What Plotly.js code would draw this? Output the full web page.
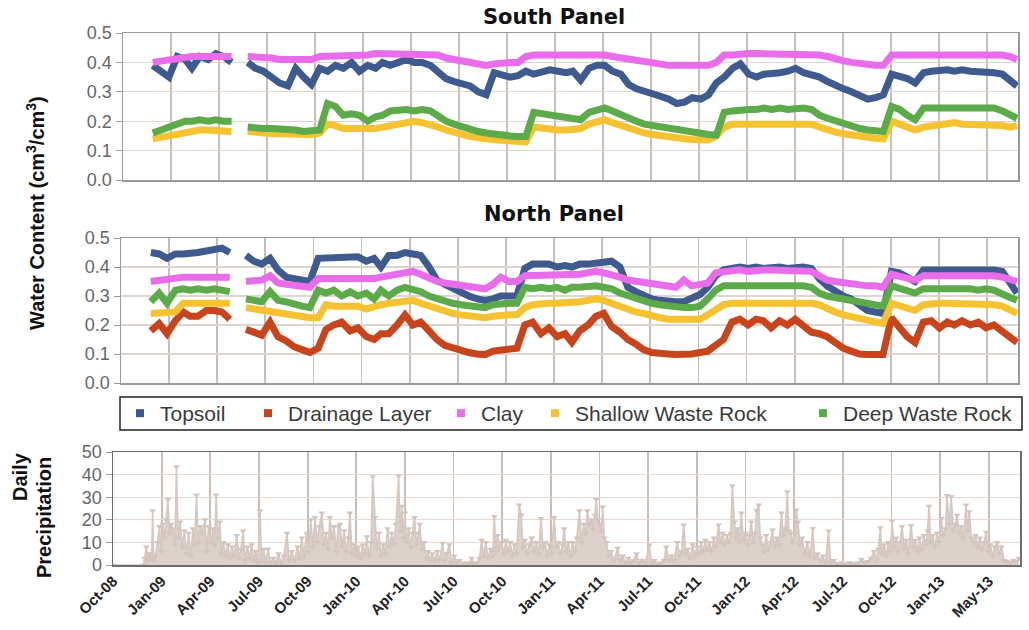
<!DOCTYPE html>
<html><head><meta charset="utf-8">
<script src="https://cdn.plot.ly/plotly-3.0.1.min.js"></script>
<style>html,body{margin:0;padding:0;background:#fff}#chart{width:1029px;height:630px}</style>
</head><body><div id="chart"></div>
<script>
// sample dates for the water-content series (null = logging gap)
const sampleDates = ["2008-12-16",
"2009-01-01","2009-01-16","2009-02-01","2009-02-16","2009-03-01","2009-03-16","2009-04-01","2009-04-16","2009-05-01","2009-05-16","2009-06-01","2009-06-16","2009-07-01","2009-07-16","2009-08-01","2009-08-16","2009-09-01","2009-09-16","2009-10-01","2009-10-16","2009-11-01","2009-11-16","2009-12-01","2009-12-16",
"2010-01-01","2010-01-16","2010-02-01","2010-02-16","2010-03-01","2010-03-16","2010-04-01","2010-04-16","2010-05-01","2010-05-16","2010-06-01","2010-06-16","2010-07-01","2010-07-16","2010-08-01","2010-08-16","2010-09-01","2010-09-16","2010-10-01","2010-10-16","2010-11-01","2010-11-16","2010-12-01","2010-12-16",
"2011-01-01","2011-01-16","2011-02-01","2011-02-16","2011-03-01","2011-03-16","2011-04-01","2011-04-16","2011-05-01","2011-05-16","2011-06-01","2011-06-16","2011-07-01","2011-07-16","2011-08-01","2011-08-16","2011-09-01","2011-09-16","2011-10-01","2011-10-16","2011-11-01","2011-11-16","2011-12-01","2011-12-16",
"2012-01-01","2012-01-16","2012-02-01","2012-02-16","2012-03-01","2012-03-16","2012-04-01","2012-04-16","2012-05-01","2012-05-16","2012-06-01","2012-06-16","2012-07-01","2012-07-16","2012-08-01","2012-08-16","2012-09-01","2012-09-16","2012-10-01","2012-10-16","2012-11-01","2012-11-16","2012-12-01","2012-12-16",
"2013-01-01","2013-01-16","2013-02-01","2013-02-16","2013-03-01","2013-03-16","2013-04-01","2013-04-16","2013-05-01","2013-05-16","2013-06-01","2013-06-16","2013-06-29"];

// ---- South Panel (cm3/cm3)
const southTopsoil = [0.39,0.37,0.35,0.42,0.41,0.38,0.42,0.41,0.43,0.42,0.40,null,0.40,0.38,0.37,0.35,0.33,0.32,0.38,0.35,0.325,0.38,0.37,0.39,0.38,
0.40,0.37,0.39,0.38,0.40,0.39,0.40,0.41,0.40,0.40,0.39,0.37,0.345,0.335,0.33,0.32,0.30,0.29,0.365,0.36,0.35,0.355,0.37,0.36,
0.37,0.375,0.37,0.365,0.37,0.34,0.38,0.39,0.39,0.37,0.36,0.325,0.31,0.30,0.29,0.285,0.275,0.26,0.265,0.28,0.275,0.29,0.33,0.35,
0.38,0.395,0.36,0.35,0.36,0.36,0.365,0.37,0.38,0.365,0.36,0.35,0.335,0.32,0.31,0.30,0.285,0.275,0.28,0.29,0.36,0.355,0.345,0.33,
0.365,0.37,0.375,0.375,0.37,0.375,0.37,0.37,0.37,0.365,0.36,0.34,0.32];
const southDrainage = [];
const southClay = [0.40,0.405,0.41,0.415,0.415,0.42,0.42,0.42,0.42,0.425,0.42,null,0.42,0.42,0.415,0.415,0.41,0.41,0.41,0.41,0.41,0.42,0.42,0.425,0.425,
0.425,0.425,0.425,0.43,0.43,0.43,0.43,0.43,0.43,0.43,0.43,0.425,0.415,0.41,0.40,0.395,0.39,0.39,0.395,0.40,0.40,0.40,0.42,0.425,
0.425,0.425,0.425,0.425,0.43,0.43,0.43,0.43,0.425,0.42,0.415,0.41,0.405,0.40,0.40,0.395,0.39,0.39,0.39,0.39,0.39,0.39,0.40,0.425,
0.425,0.43,0.43,0.43,0.43,0.43,0.43,0.43,0.43,0.43,0.43,0.425,0.42,0.41,0.405,0.40,0.395,0.39,0.39,0.39,0.425,0.425,0.425,0.425,
0.425,0.425,0.43,0.43,0.43,0.43,0.43,0.43,0.43,0.43,0.425,0.42,0.41];
const southShallow = [0.14,0.145,0.15,0.16,0.165,0.165,0.17,0.17,0.17,0.17,0.165,null,0.165,0.16,0.16,0.158,0.157,0.155,0.155,0.155,0.155,0.16,0.19,0.185,0.175,
0.175,0.175,0.17,0.175,0.18,0.185,0.19,0.20,0.20,0.195,0.19,0.18,0.17,0.16,0.155,0.148,0.143,0.14,0.137,0.135,0.133,0.132,0.13,0.18,
0.175,0.175,0.17,0.17,0.17,0.175,0.19,0.20,0.205,0.195,0.185,0.175,0.165,0.16,0.155,0.15,0.147,0.143,0.14,0.138,0.137,0.136,0.15,0.18,
0.19,0.19,0.19,0.19,0.195,0.195,0.19,0.195,0.195,0.19,0.19,0.18,0.17,0.163,0.157,0.152,0.148,0.145,0.142,0.14,0.20,0.19,0.18,0.17,
0.18,0.185,0.19,0.19,0.195,0.19,0.19,0.19,0.19,0.19,0.185,0.18,0.185];
const southDeep = [0.16,0.17,0.18,0.19,0.20,0.20,0.205,0.20,0.205,0.20,0.20,null,0.18,0.175,0.175,0.175,0.175,0.17,0.17,0.165,0.165,0.17,0.26,0.25,0.22,
0.225,0.22,0.20,0.215,0.22,0.235,0.24,0.24,0.235,0.24,0.235,0.215,0.20,0.19,0.18,0.17,0.165,0.16,0.155,0.15,0.15,0.148,0.148,0.23,
0.225,0.22,0.215,0.215,0.21,0.205,0.23,0.24,0.245,0.235,0.225,0.21,0.20,0.19,0.185,0.18,0.175,0.17,0.165,0.16,0.158,0.155,0.153,0.23,
0.235,0.24,0.24,0.24,0.245,0.24,0.245,0.24,0.245,0.245,0.24,0.22,0.21,0.20,0.19,0.18,0.175,0.17,0.168,0.165,0.25,0.24,0.22,0.205,
0.245,0.245,0.25,0.25,0.25,0.25,0.25,0.245,0.25,0.245,0.235,0.22,0.21];

// ---- North Panel (cm3/cm3)
const northTopsoil = [0.45,0.445,0.43,0.445,0.445,0.45,0.45,0.455,0.46,0.465,0.45,null,0.44,0.42,0.41,0.43,0.39,0.365,0.36,0.355,0.35,0.43,0.43,0.435,0.43,
0.43,0.435,0.42,0.43,0.40,0.44,0.44,0.45,0.445,0.44,0.40,0.355,0.34,0.325,0.31,0.30,0.29,0.285,0.29,0.30,0.30,0.30,0.395,0.41,
0.41,0.41,0.40,0.405,0.40,0.41,0.41,0.415,0.415,0.42,0.40,0.33,0.315,0.30,0.29,0.285,0.28,0.28,0.28,0.29,0.305,0.33,0.37,0.39,
0.395,0.40,0.395,0.40,0.395,0.40,0.40,0.395,0.40,0.40,0.395,0.36,0.335,0.315,0.30,0.29,0.27,0.25,0.245,0.24,0.385,0.38,0.365,0.35,
0.39,0.39,0.395,0.395,0.395,0.395,0.39,0.395,0.395,0.39,0.385,0.35,0.31];
const northDrainage = [0.18,0.205,0.17,0.215,0.245,0.23,0.23,0.25,0.25,0.245,0.22,null,0.185,0.175,0.165,0.21,0.16,0.145,0.125,0.115,0.105,0.12,0.185,0.20,0.21,
0.18,0.19,0.16,0.15,0.17,0.17,0.20,0.235,0.20,0.21,0.18,0.15,0.13,0.12,0.112,0.105,0.10,0.098,0.11,0.115,0.12,0.12,0.20,0.21,
0.17,0.19,0.16,0.17,0.14,0.18,0.20,0.23,0.24,0.195,0.175,0.15,0.135,0.115,0.105,0.10,0.10,0.098,0.097,0.10,0.105,0.11,0.13,0.15,
0.21,0.22,0.20,0.22,0.215,0.19,0.215,0.20,0.22,0.20,0.175,0.17,0.16,0.14,0.12,0.11,0.10,0.098,0.097,0.098,0.225,0.19,0.16,0.14,
0.21,0.215,0.19,0.21,0.20,0.215,0.20,0.21,0.19,0.20,0.18,0.16,0.14];
const northClay = [0.35,0.355,0.36,0.365,0.365,0.365,0.365,0.365,0.365,0.365,0.365,null,0.35,0.35,0.355,0.37,0.345,0.34,0.335,0.33,0.33,0.36,0.36,0.36,0.355,
0.36,0.36,0.355,0.36,0.365,0.37,0.375,0.38,0.385,0.375,0.36,0.35,0.345,0.34,0.335,0.33,0.325,0.325,0.34,0.365,0.35,0.35,0.37,0.37,
0.37,0.37,0.37,0.37,0.375,0.375,0.38,0.385,0.38,0.375,0.365,0.355,0.35,0.345,0.34,0.335,0.33,0.33,0.355,0.335,0.34,0.345,0.38,0.385,
0.385,0.39,0.385,0.39,0.39,0.39,0.39,0.39,0.39,0.39,0.385,0.37,0.355,0.35,0.345,0.34,0.335,0.335,0.335,0.33,0.375,0.37,0.36,0.355,
0.37,0.37,0.375,0.375,0.375,0.375,0.375,0.375,0.375,0.37,0.365,0.355,0.35];
const northShallow = [0.24,0.24,0.24,0.245,0.275,0.275,0.275,0.28,0.28,0.28,0.275,null,0.26,0.255,0.25,0.25,0.245,0.24,0.235,0.23,0.225,0.225,0.27,0.265,0.265,
0.26,0.265,0.255,0.265,0.27,0.275,0.28,0.285,0.285,0.275,0.265,0.255,0.245,0.24,0.235,0.23,0.228,0.225,0.23,0.235,0.235,0.235,0.26,0.27,
0.275,0.275,0.275,0.275,0.28,0.28,0.285,0.29,0.285,0.275,0.265,0.25,0.245,0.24,0.23,0.225,0.22,0.22,0.22,0.22,0.22,0.235,0.25,0.27,
0.275,0.275,0.275,0.275,0.275,0.28,0.275,0.28,0.275,0.28,0.275,0.27,0.255,0.245,0.235,0.23,0.22,0.215,0.21,0.205,0.275,0.265,0.255,0.25,
0.27,0.275,0.275,0.275,0.275,0.275,0.275,0.275,0.275,0.27,0.265,0.25,0.24];
const northDeep = [0.28,0.31,0.275,0.32,0.325,0.32,0.325,0.32,0.325,0.32,0.315,null,0.29,0.285,0.28,0.315,0.285,0.28,0.27,0.265,0.26,0.32,0.31,0.32,0.30,
0.315,0.30,0.31,0.29,0.32,0.30,0.32,0.33,0.325,0.315,0.30,0.29,0.28,0.275,0.27,0.265,0.26,0.26,0.27,0.275,0.275,0.275,0.33,0.325,
0.33,0.325,0.33,0.32,0.33,0.33,0.335,0.335,0.33,0.325,0.31,0.30,0.29,0.28,0.275,0.27,0.265,0.26,0.26,0.26,0.265,0.29,0.32,0.335,
0.335,0.34,0.335,0.335,0.335,0.335,0.335,0.335,0.335,0.335,0.33,0.31,0.30,0.295,0.29,0.285,0.28,0.275,0.27,0.265,0.335,0.325,0.315,0.31,
0.325,0.325,0.33,0.325,0.325,0.325,0.325,0.32,0.325,0.32,0.31,0.295,0.285];

// ---- Daily precipitation [date, mm]
const precipitation = [["2008-10-20",0],["2008-12-16",0],["2008-12-19",3],["2008-12-22",8],["2008-12-25",2],["2008-12-28",5],
["2009-01-01",3],["2009-01-03",24],["2009-01-05",2],["2009-01-08",4],["2009-01-12",10],["2009-01-16",17],["2009-01-19",6],["2009-01-22",18],["2009-01-25",12],["2009-01-28",20],
["2009-02-01",29],["2009-02-04",14],["2009-02-07",18],["2009-02-10",16],["2009-02-14",9],["2009-02-17",43.5],["2009-02-20",12],["2009-02-24",19],["2009-02-28",8],
["2009-03-04",15],["2009-03-08",5],["2009-03-12",14],["2009-03-16",4],["2009-03-20",16],["2009-03-23",9],["2009-03-27",31],["2009-03-30",10],
["2009-04-03",17],["2009-04-07",14],["2009-04-12",20],["2009-04-15",6],["2009-04-19",17],["2009-04-23",10],["2009-04-27",16],["2009-04-30",9],
["2009-05-03",31],["2009-05-06",12],["2009-05-10",19],["2009-05-13",5],["2009-05-17",10],["2009-05-21",4],["2009-05-25",9],["2009-05-29",3],
["2009-06-02",8],["2009-06-06",4],["2009-06-11",13],["2009-06-15",3],["2009-06-19",7],["2009-06-23",15],["2009-06-27",2],
["2009-07-01",8],["2009-07-05",3],["2009-07-09",9],["2009-07-13",2],["2009-07-17",6],["2009-07-21",1],["2009-07-25",24],["2009-07-28",2],
["2009-08-01",7],["2009-08-05",1],["2009-08-09",7],["2009-08-14",1],["2009-08-19",3],["2009-08-24",1],["2009-08-29",5],
["2009-09-03",1],["2009-09-08",4],["2009-09-14",14],["2009-09-18",2],["2009-09-23",6],["2009-09-28",2],
["2009-10-04",8],["2009-10-08",3],["2009-10-12",12],["2009-10-16",4],["2009-10-21",14],["2009-10-25",6],["2009-10-29",20],
["2009-11-02",8],["2009-11-06",21],["2009-11-10",10],["2009-11-14",17],["2009-11-19",23],["2009-11-23",9],["2009-11-27",14],
["2009-12-01",7],["2009-12-04",21],["2009-12-08",12],["2009-12-12",17],["2009-12-16",6],["2009-12-20",17],["2009-12-23",18],["2009-12-27",8],["2009-12-31",15],
["2010-01-04",6],["2010-01-08",12],["2010-01-11",23],["2010-01-15",5],["2010-01-19",9],["2010-01-23",4],["2010-01-27",8],["2010-01-31",3],
["2010-02-04",9],["2010-02-08",5],["2010-02-12",12.5],["2010-02-16",4],["2010-02-20",10],["2010-02-23",39],["2010-02-27",21],
["2010-03-03",7],["2010-03-07",14],["2010-03-11",4],["2010-03-15",9],["2010-03-19",5],["2010-03-23",16],["2010-03-27",8],["2010-03-31",14],
["2010-04-04",9],["2010-04-08",18],["2010-04-13",39.5],["2010-04-16",15],["2010-04-19",26],["2010-04-22",12],["2010-04-25",23],["2010-04-28",10],
["2010-05-02",16],["2010-05-06",8],["2010-05-09",14],["2010-05-13",21],["2010-05-17",9],["2010-05-20",14],["2010-05-23",18],["2010-05-27",7],["2010-05-31",10],
["2010-06-04",3],["2010-06-08",6],["2010-06-12",2],["2010-06-16",5],["2010-06-20",2],["2010-06-25",6],["2010-06-29",2],
["2010-07-05",9.6],["2010-07-09",2],["2010-07-13",5],["2010-07-18",9],["2010-07-22",1],["2010-07-27",4],
["2010-08-01",1],["2010-08-06",2],["2010-08-12",0.5],["2010-08-18",1],["2010-08-24",0.5],["2010-08-29",3],
["2010-09-03",0.5],["2010-09-08",1],["2010-09-13",3],["2010-09-17",11],["2010-09-21",4],["2010-09-25",10],["2010-09-29",3],
["2010-10-04",7],["2010-10-08",4],["2010-10-11",21.5],["2010-10-14",6],["2010-10-17",13],["2010-10-21",8],["2010-10-25",10],["2010-10-29",5],
["2010-11-02",11],["2010-11-06",6],["2010-11-10",10],["2010-11-14",4],["2010-11-18",9],["2010-11-22",5],["2010-11-27",26.5],
["2010-12-01",22],["2010-12-04",8],["2010-12-08",11],["2010-12-12",5],["2010-12-16",9],["2010-12-21",12],["2010-12-25",6],["2010-12-29",10],
["2011-01-03",5],["2011-01-07",20.6],["2011-01-11",8],["2011-01-15",10],["2011-01-19",4],["2011-01-23",9],["2011-01-27",5],
["2011-02-01",21],["2011-02-05",8],["2011-02-09",10],["2011-02-13",5],["2011-02-17",9],["2011-02-20",16],["2011-02-24",6],["2011-02-28",10],
["2011-03-04",4],["2011-03-08",10],["2011-03-12",6],["2011-03-16",12],["2011-03-21",24],["2011-03-25",10],["2011-03-29",18],
["2011-04-02",14],["2011-04-05",24],["2011-04-09",18],["2011-04-13",20],["2011-04-16",16],["2011-04-19",22],["2011-04-22",29],["2011-04-25",20],["2011-04-28",18],
["2011-05-01",15],["2011-05-04",25.7],["2011-05-07",12],["2011-05-11",10],["2011-05-15",4],["2011-05-20",6],["2011-05-25",2],
["2011-06-01",7.4],["2011-06-06",2],["2011-06-11",4],["2011-06-16",1],["2011-06-21",3],["2011-06-26",1],
["2011-07-01",2],["2011-07-07",5],["2011-07-12",1],["2011-07-18",2],["2011-07-24",1],["2011-07-31",8.8],
["2011-08-04",1],["2011-08-10",2],["2011-08-16",0.5],["2011-08-22",1],["2011-08-28",2],
["2011-09-01",8],["2011-09-06",2],["2011-09-11",4],["2011-09-16",2],["2011-09-22",10],["2011-09-26",4],["2011-09-30",6],
["2011-10-04",17.7],["2011-10-08",5],["2011-10-12",7],["2011-10-16",3],["2011-10-21",9],["2011-10-25",4],["2011-10-29",8],
["2011-11-02",5],["2011-11-06",10],["2011-11-10",6],["2011-11-14",11],["2011-11-18",7],["2011-11-22",10],["2011-11-26",6],["2011-11-30",12],
["2011-12-04",8],["2011-12-09",17.7],["2011-12-13",10],["2011-12-17",14],["2011-12-21",9],["2011-12-25",13],["2011-12-29",10],
["2012-01-01",14],["2012-01-04",35],["2012-01-08",19],["2012-01-11",12],["2012-01-14",16],["2012-01-17",10],["2012-01-21",23],["2012-01-25",11],["2012-01-29",14],
["2012-02-02",9],["2012-02-05",13],["2012-02-09",19],["2012-02-13",10],["2012-02-16",14],["2012-02-19",24],["2012-02-23",26.5],["2012-02-26",12],
["2012-03-01",9],["2012-03-04",6],["2012-03-08",13],["2012-03-12",7],["2012-03-16",10],["2012-03-20",15.5],["2012-03-24",8],["2012-03-28",12],
["2012-04-01",9],["2012-04-06",23],["2012-04-09",13],["2012-04-13",16],["2012-04-17",32.4],["2012-04-20",15],["2012-04-24",14],["2012-04-27",10],
["2012-05-01",14],["2012-05-04",24.3],["2012-05-07",19],["2012-05-11",9],["2012-05-15",12],["2012-05-20",5],["2012-05-25",10],["2012-05-30",4],
["2012-06-04",16.2],["2012-06-08",3],["2012-06-13",5],["2012-06-18",2],["2012-06-23",4],["2012-06-28",1],
["2012-07-04",15],["2012-07-08",1],["2012-07-14",2],["2012-07-20",0.5],["2012-07-28",1],
["2012-08-05",0.5],["2012-08-13",1],["2012-08-21",0.5],["2012-08-29",1],
["2012-09-04",2.5],["2012-09-10",1],["2012-09-16",1.5],["2012-09-22",3],["2012-09-28",6],
["2012-10-02",2],["2012-10-06",7],["2012-10-10",16.5],["2012-10-13",5],["2012-10-17",9],["2012-10-21",4],["2012-10-25",10],["2012-10-29",6],
["2012-11-01",19.5],["2012-11-05",8],["2012-11-09",12],["2012-11-13",6],["2012-11-16",10],["2012-11-20",17],["2012-11-24",7],["2012-11-28",11],
["2012-12-02",5],["2012-12-07",17.4],["2012-12-11",8],["2012-12-15",11],["2012-12-19",6],["2012-12-23",12],["2012-12-27",7],["2012-12-31",13],
["2013-01-04",9],["2013-01-07",15],["2013-01-10",26],["2013-01-13",10],["2013-01-17",13],["2013-01-21",8],["2013-01-25",14],["2013-01-29",10],
["2013-02-02",20.6],["2013-02-06",13],["2013-02-10",16],["2013-02-13",30.7],["2013-02-17",18],["2013-02-21",30.3],["2013-02-25",15],
["2013-03-01",18],["2013-03-04",22],["2013-03-08",14],["2013-03-12",17],["2013-03-16",12],["2013-03-21",26.5],["2013-03-24",15],["2013-03-27",23.6],["2013-03-31",12],
["2013-04-04",10],["2013-04-08",13],["2013-04-12",8],["2013-04-16",12],["2013-04-20",7],["2013-04-24",10],["2013-04-28",14.5],
["2013-05-02",6],["2013-05-06",9],["2013-05-10",4],["2013-05-14",8],["2013-05-19",10],["2013-05-23",5],["2013-05-27",8],
["2013-06-01",2],["2013-06-06",1.5],["2013-06-12",1],["2013-06-18",2],["2013-06-24",1.5],["2013-06-29",3]];

// x-axis ticks (quarterly labels of the original)
const tickDates = ["2008-10-20","2009-01-20","2009-04-22","2009-07-23","2009-10-23","2010-01-23","2010-04-25","2010-07-26","2010-10-26","2011-01-26","2011-04-28","2011-07-29","2011-10-29","2012-01-29","2012-04-30","2012-07-31","2012-10-31","2013-01-31","2013-05-03"];
const tickLabels = ["Oct-08","Jan-09","Apr-09","Jul-09","Oct-09","Jan-10","Apr-10","Jul-10","Oct-10","Jan-11","Apr-11","Jul-11","Oct-11","Jan-12","Apr-12","Jul-12","Oct-12","Jan-13","May-13"];
const xRange = ["2008-10-20","2013-07-01"];

const layerNames = ["Topsoil","Drainage Layer","Clay","Shallow Waste Rock","Deep Waste Rock"];
const layerColors = ["#3e5a8e","#c8441c","#e96deb","#f5c331","#5daa4b"];

const W = 1029, H = 630;
const px = v => v / W, py = v => 1 - v / H;

const traces = [];
const south = [southTopsoil, southDrainage, southClay, southShallow, southDeep];
const north = [northTopsoil, northDrainage, northClay, northShallow, northDeep];
south.forEach((s, i) => { if (s.length) traces.push({x: sampleDates, y: s, type: 'scatter', mode: 'lines', line: {color: layerColors[i], width: 7}, xaxis: 'x', yaxis: 'y', showlegend: false, name: layerNames[i]}); });
north.forEach((s, i) => { traces.push({x: sampleDates, y: s, type: 'scatter', mode: 'lines', line: {color: layerColors[i], width: 7}, xaxis: 'x2', yaxis: 'y2', showlegend: false, name: layerNames[i]}); });
traces.push({x: precipitation.map(p => p[0]), y: precipitation.map(p => p[1]), type: 'scatter', mode: 'lines+markers',
  fill: 'tozeroy', fillcolor: '#ddd1cb',
  line: {color: '#d6c8c1', width: 1.6}, marker: {symbol: 'triangle-down', size: 6, color: '#d3c4bd'},
  xaxis: 'x3', yaxis: 'y3', showlegend: false, name: 'Daily Precipitation'});

// legend entries (one small legend per item to keep the original spacing)
const legendTextStart = [162, 290, 483, 577, 845];
const legends = {};
layerNames.forEach((n, i) => {
  const key = i === 0 ? 'legend' : 'legend' + (i + 1);
  traces.push({x: [null], y: [null], type: 'scatter', mode: 'markers', marker: {symbol: 'square', size: 8, color: layerColors[i]},
    name: n, legend: key, xaxis: 'x', yaxis: 'y', showlegend: true});
  legends[key] = {x: px(legendTextStart[i] - 42), xanchor: 'left', y: py(413.5), yanchor: 'middle', orientation: 'h',
    bgcolor: 'rgba(0,0,0,0)', borderwidth: 0, itemwidth: 30,
    font: {family: 'Liberation Sans, Arial, sans-serif', size: 21, color: '#3a3a3a'}};
});

const gridV = '#c9bdb4', gridH = '#ddd5cf', frame = '#9a9a9a';
const tickFont = {family: 'Liberation Sans, Arial, sans-serif', size: 18, color: '#666'};
function xax(domain, anchor, extra) {
  return Object.assign({domain, anchor, type: 'date', range: xRange, tickmode: 'array', tickvals: tickDates, ticktext: tickLabels,
    showticklabels: false, ticks: '', showgrid: true, gridcolor: gridV, gridwidth: 1.8, zeroline: false,
    showline: true, mirror: true, linecolor: frame, linewidth: 1.5}, extra || {});
}
function yax(domain, anchor, range, dtick, fmt, extra) {
  return Object.assign({domain, anchor, range, dtick, tick0: 0, tickformat: fmt, ticks: 'outside', ticklen: 6, tickcolor: frame,
    tickfont: tickFont, showgrid: true, gridcolor: gridH, gridwidth: 1.3, zeroline: false,
    showline: true, mirror: true, linecolor: frame, linewidth: 1.5, fixedrange: true}, extra || {});
}

const ttl = {family: 'Liberation Sans, Arial, sans-serif', size: 20, color: '#111'};
const layout = Object.assign({
  width: W, height: H, margin: {l: 0, r: 0, t: 0, b: 0}, paper_bgcolor: '#fff', plot_bgcolor: '#fff', hovermode: false,
  font: {family: 'Liberation Sans, Arial, sans-serif'},
  xaxis: xax([px(123), px(1018)], 'y'),
  yaxis: yax([py(180), py(33)], 'x', [0, 0.5], 0.1, '.1f'),
  xaxis2: xax([px(121), px(1018)], 'y2'),
  yaxis2: yax([py(383), py(238)], 'x2', [0, 0.5], 0.1, '.1f'),
  xaxis3: xax([px(113), px(1020)], 'y3', {showticklabels: true, tickangle: -45, linecolor: '#6e6e6e',
    tickfont: {family: 'Liberation Sans, Arial, sans-serif', size: 15, color: '#222', weight: 'bold'}}),
  yaxis3: yax([py(565), py(452)], 'x3', [0, 50], 10, 'd', {linecolor: '#6e6e6e', gridcolor: '#e6d9d2'}),
  shapes: [{type: 'rect', xref: 'paper', yref: 'paper', x0: px(120), x1: px(1022), y0: py(430), y1: py(397),
    line: {color: '#222', width: 1.5}, fillcolor: 'rgba(0,0,0,0)'}],
  annotations: [
    {text: '<b>South Panel</b>', xref: 'paper', yref: 'paper', x: px(554), y: py(17), xanchor: 'center', yanchor: 'middle', showarrow: false,
      font: {family: 'DejaVu Sans, sans-serif', size: 21, color: '#111'}},
    {text: '<b>North Panel</b>', xref: 'paper', yref: 'paper', x: px(554), y: py(214), xanchor: 'center', yanchor: 'middle', showarrow: false,
      font: {family: 'DejaVu Sans, sans-serif', size: 21, color: '#111'}},
    {text: '<b>Water Content (cm<sup>3</sup>/cm<sup>3</sup>)</b>', xref: 'paper', yref: 'paper', x: px(35), y: py(213), textangle: -90,
      xanchor: 'center', yanchor: 'middle', showarrow: false, font: ttl},
    {text: '<b>Daily</b>', xref: 'paper', yref: 'paper', x: px(20), y: py(477), textangle: -90, xanchor: 'center', yanchor: 'middle', showarrow: false, font: ttl},
    {text: '<b>Precipitation</b>', xref: 'paper', yref: 'paper', x: px(44), y: py(518), textangle: -90, xanchor: 'center', yanchor: 'middle', showarrow: false, font: ttl}
  ]
}, legends);

Plotly.newPlot('chart', traces, layout, {staticPlot: true, displayModeBar: false});
</script></body></html>
